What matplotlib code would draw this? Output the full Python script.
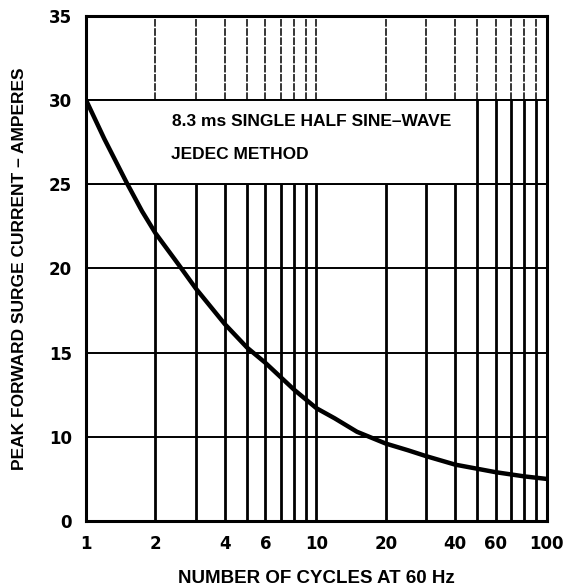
import numpy as np
import matplotlib.pyplot as plt
from matplotlib.patches import Rectangle

plt.rcParams["font.family"] = "Liberation Sans"
plt.rcParams["font.weight"] = "bold"

# Surge current curve
cycles = [1, 1.2, 1.5, 1.75, 2, 2.5, 3, 4, 5, 6, 8, 10, 12, 15, 20, 25, 30, 40, 60, 80, 100]
amps = [30.0, 27.7, 25.1, 23.4, 22.1, 20.3, 18.8, 16.7, 15.3, 14.4, 12.8, 11.7, 11.1, 10.3,
        9.6, 9.2, 8.85, 8.35, 7.9, 7.65, 7.5]

x_ticks = [1, 2, 4, 6, 10, 20, 40, 60, 100]
x_ticklabels = ["1", "2", "4", "6", "10", "20", "40", "60", "100"]
y_ticks = [5, 10, 15, 20, 25, 30, 35]
y_ticklabels = ["0", "10", "15", "20", "25", "30", "35"]   # broken axis: bottom line is labelled 0
grid_x = [2, 3, 4, 5, 6, 7, 8, 9, 10, 20, 30, 40, 50, 60, 70, 80, 90]

fig = plt.figure(figsize=(5.66, 5.87), dpi=100)
ax = fig.add_axes([0.152, 0.1124, 0.814, 0.8606])
ax.set_xscale("log")
ax.set_xlim(1, 100)
ax.set_ylim(5, 35)

# vertical grid: heavy below 25 A, thin dashed in the top band
ax.vlines(grid_x, 5, 25, color="black", lw=2.0, zorder=1)
ax.vlines(grid_x, 30, 35, color="black", lw=1.1, linestyles=(0, (5, 1)), zorder=1)
ax.hlines(y_ticks[1:-1], 1, 100, color="black", lw=1.4, zorder=1)

# white label box
ax.add_patch(Rectangle((1, 25), 49, 5, facecolor="white", edgecolor="none", zorder=2))
ax.vlines([g for g in grid_x if g >= 50], 25, 30, color="black", lw=2.0, zorder=2.6)
ax.text(2.36, 28.7, "8.3 ms SINGLE HALF SINE\u2013WAVE", fontsize=12.5, fontweight="bold",
        va="center", ha="left", zorder=3)
ax.text(2.33, 26.75, "JEDEC METHOD", fontsize=12.5, fontweight="bold",
        va="center", ha="left", zorder=3)
ax.hlines([25, 30], 1, 100, color="black", lw=1.4, zorder=2.5)

ax.plot(cycles, amps, color="black", lw=3.2, zorder=4, solid_capstyle="round",
        solid_joinstyle="round")

ax.set_xticks(x_ticks)
ax.set_xticklabels(x_ticklabels)
ax.xaxis.set_minor_locator(plt.NullLocator())
ax.set_yticks(y_ticks)
ax.set_yticklabels(y_ticklabels)
ax.tick_params(axis="both", length=0, pad=10)
for lab in ax.get_xticklabels() + ax.get_yticklabels():
    lab.set_fontfamily("DejaVu Sans")
    lab.set_fontweight("bold")
    lab.set_fontsize(12)

for s in ax.spines.values():
    s.set_linewidth(2.2)

ax.set_xlabel("NUMBER OF CYCLES AT 60 Hz", fontsize=13.5, fontweight="bold", labelpad=12)
ax.set_ylabel("PEAK FORWARD SURGE CURRENT \u2013 AMPERES", fontsize=12.5, fontweight="bold", labelpad=16)

fig.savefig("out.png", dpi=100)
